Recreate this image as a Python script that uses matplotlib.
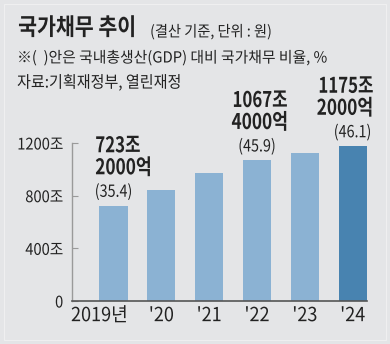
import matplotlib.pyplot as plt
from matplotlib.patches import Rectangle
from matplotlib.patheffects import AbstractPathEffect
from matplotlib.transforms import Affine2D, ScaledTranslation

# National debt by year (trillion won, settled accounts)
years = ["2019년", "'20", "'21", "'22", "'23", "'24"]
debt = [723.2, 846.6, 970.7, 1067.4, 1126.8, 1175.2]

# Bars that carry a value label
label_idx = [0, 3, 5]
label_jo = ["723조", "1067조", "1175조"]
label_eok = ["2000억", "4000억", "2000억"]
gdp_ratio = [35.4, 45.9, 46.1]

yticks = [0, 400, 800, 1200]
ytick_labels = ["0", "400조", "800조", "1200조"]

# label placement (pixels relative to bar centre)
label_ha = ["left", "center", "right"]
label_dx = [-18.5, 3, 21]


class Condense(AbstractPathEffect):
    """Squeeze glyphs horizontally around the text's left/centre/right edge."""

    def __init__(self, sx, anchor="center"):
        super().__init__()
        self.sx = sx
        self.anchor = anchor

    def draw_path(self, renderer, gc, tpath, affine, rgbFace=None):
        ext = tpath.get_extents()
        x0 = {"left": ext.x0, "center": (ext.x0 + ext.x1) / 2, "right": ext.x1}[self.anchor]
        squeeze = Affine2D().translate(-x0, 0).scale(self.sx, 1).translate(x0, 0)
        renderer.draw_path(gc, tpath, squeeze + affine, rgbFace)


plt.rcParams['font.family'] = ['Noto Sans CJK KR', 'DejaVu Sans']

bg = "#e4e5e7"
light = "#8bb2d3"
dark = "#4883b0"
ink = "#222222"

W, H = 390, 344
fig = plt.figure(figsize=(W / 100, H / 100), dpi=100, facecolor=bg)
ax = fig.add_axes([71.5 / W, 1 - 301 / H, (367 - 71.5) / W, (301 - 143) / H])
ax.set_facecolor(bg)

colors = [light] * (len(debt) - 1) + [dark]
x = range(len(debt))
ax.bar(x, debt, width=0.59, color=colors, zorder=2)

ax.set_xlim(-0.88, 5.3)
ax.set_ylim(0, 1200)

for s in ["top", "right"]:
    ax.spines[s].set_visible(False)
ax.spines["left"].set_color("#9a9a9a")
ax.spines["left"].set_linewidth(1.0)
ax.spines["bottom"].set_color("#555555")
ax.spines["bottom"].set_linewidth(1.2)
ax.spines["bottom"].set_zorder(3)

ax.set_yticks(yticks)
ax.set_yticklabels(ytick_labels)
ax.tick_params(axis="y", direction="in", length=4.5, width=0.8, color="#9a9a9a",
               pad=6, labelsize=11.5, labelcolor=ink)
for t in ax.get_yticklabels():
    t.set_path_effects([Condense(0.92, "right")])

ax.set_xticks(list(x))
ax.set_xticklabels(years)
ax.tick_params(axis="x", length=0, pad=3, labelsize=14, labelcolor=ink)
for t in ax.get_xticklabels():
    t.set_path_effects([Condense(0.93, "center")])
first = ax.get_xticklabels()[0]
first.set_transform(first.get_transform() + ScaledTranslation(-14 / 100, 0, fig.dpi_scale_trans))

# value labels above selected bars
for k, i in enumerate(label_idx):
    ax.annotate(f"({gdp_ratio[k]})", xy=(i, debt[i]), xytext=(0, 9),
                textcoords="offset pixels", ha="center", va="baseline",
                fontsize=12, color=ink, annotation_clip=False,
                path_effects=[Condense(0.86, "center")])
    ax.annotate(label_eok[k], xy=(i, debt[i]), xytext=(label_dx[k], 31.5),
                textcoords="offset pixels", ha=label_ha[k], va="baseline",
                fontsize=15.5, fontweight="bold", color=ink, annotation_clip=False,
                path_effects=[Condense(0.8, label_ha[k])])
    ax.annotate(label_jo[k], xy=(i, debt[i]), xytext=(label_dx[k], 53.5),
                textcoords="offset pixels", ha=label_ha[k], va="baseline",
                fontsize=15.5, fontweight="bold", color=ink, annotation_clip=False,
                path_effects=[Condense(0.78, label_ha[k])])

# heading block
fig.text(18 / W, 1 - 28 / H, "국가채무 추이", fontsize=17, fontweight="bold",
         color=ink, va="center", ha="left", path_effects=[Condense(0.87, "left")])
fig.text(150 / W, 1 - 32 / H, "(결산 기준, 단위 : 원)", fontsize=11,
         color=ink, va="center", ha="left", path_effects=[Condense(0.93, "left")])
fig.text(17 / W, 1 - 58 / H, "※(  )안은 국내총생산(GDP) 대비 국가채무 비율, %",
         fontsize=11, color=ink, va="center", ha="left",
         path_effects=[Condense(0.97, "left")])
fig.text(17 / W, 1 - 83 / H, "자료:기획재정부, 열린재정", fontsize=11.8,
         color=ink, va="center", ha="left", path_effects=[Condense(0.92, "left")])

# faint inner frame
fig.patches.append(Rectangle((4 / W, 4 / H), 1 - 8 / W, 1 - 8 / H, transform=fig.transFigure,
                             fill=False, edgecolor="#efeff0", linewidth=0.8))

fig.savefig("out.png", dpi=100, facecolor=bg)
